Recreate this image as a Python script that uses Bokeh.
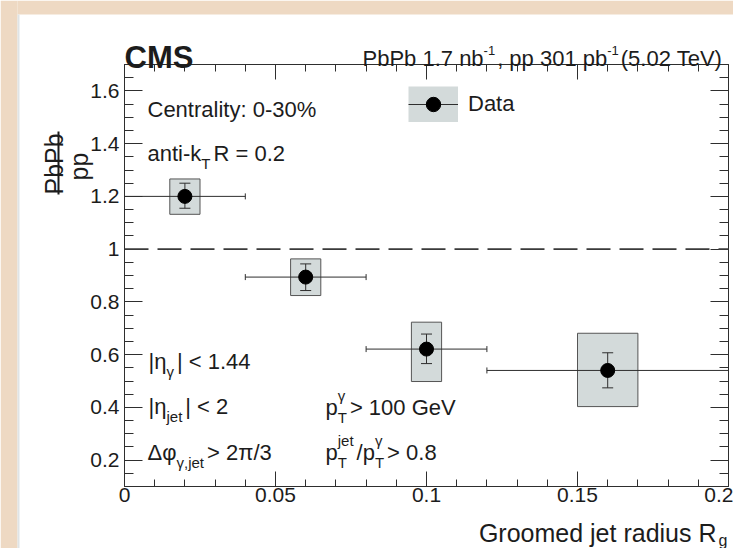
import math
from bokeh.plotting import figure
from bokeh.models import (Range1d, FixedTicker, LinearAxis, CustomJSTickFormatter, Label, Span,
                          Whisker, TeeHead, ColumnDataSource, BoxAnnotation, Arrow, Legend,
                          LegendItem, GridBox)
from bokeh.embed import file_html
from bokeh.resources import INLINE

# ---------------- data ----------------
rg_center = [0.02, 0.06, 0.10, 0.16]
rg_low = [0.00, 0.04, 0.08, 0.12]
rg_high = [0.04, 0.08, 0.12, 0.20]
ratio = [1.200, 0.894, 0.621, 0.540]
stat_up = [0.050, 0.050, 0.057, 0.067]
stat_dn = [0.045, 0.051, 0.055, 0.066]
syst_up = [0.066, 0.069, 0.102, 0.141]
syst_dn = [0.068, 0.070, 0.123, 0.137]
box_half = [0.005, 0.005, 0.005, 0.010]

x_major = [0.0, 0.05, 0.10, 0.15, 0.20]
x_minor = [0.01, 0.02, 0.03, 0.04, 0.06, 0.07, 0.08, 0.09, 0.11, 0.12, 0.13, 0.14,
           0.16, 0.17, 0.18, 0.19]
y_major = [0.2, 0.4, 0.6, 0.8, 1.0, 1.2, 1.4, 1.6]
y_minor = [0.15, 0.25, 0.3, 0.35, 0.45, 0.5, 0.55, 0.65, 0.7, 0.75, 0.85, 0.9, 0.95,
           1.05, 1.1, 1.15, 1.25, 1.3, 1.35, 1.45, 1.5, 1.55, 1.65]

FONT = "Liberation Sans"
INK = "#1c1c1c"
LINE = "#2e2e2e"
BOX_FILL = "#d3dada"
PAPER = "#eed9c3"
NAN = float("nan")
PAGE_W, PAGE_H = 733, 548

src = ColumnDataSource(dict(
    x=rg_center, y=ratio, xlo=rg_low, xhi=rg_high,
    ylo=[r - d for r, d in zip(ratio, stat_dn)],
    yhi=[r + u for r, u in zip(ratio, stat_up)],
    bl=[c - h for c, h in zip(rg_center, box_half)],
    br=[c + h for c, h in zip(rg_center, box_half)],
    bb=[r - d for r, d in zip(ratio, syst_dn)],
    bt=[r + u for r, u in zip(ratio, syst_up)],
))

# ---------------- main plot (frame fixed at 604 x 422 px, left/top at 124/64) ----------------
p = figure(frame_width=604, frame_height=422, x_range=Range1d(0, 0.2),
           y_range=Range1d(0.1, 1.7), output_backend="svg", toolbar_location=None,
           min_border_left=124, min_border_right=5, min_border_top=64, min_border_bottom=62)
if "frame_align" in p.properties():
    p.frame_align = False
p.background_fill_color = "white"
p.border_fill_color = "white"
p.outline_line_color = LINE
p.outline_line_width = 1
p.xgrid.visible = False
p.ygrid.visible = False

num_fmt = CustomJSTickFormatter(code="return Number(tick.toFixed(3)).toString();")


def style_axis(ax, ticks, minor, tin, mtin, show_labels=True):
    ax.ticker = FixedTicker(ticks=ticks, minor_ticks=minor)
    ax.major_tick_in = tin
    ax.major_tick_out = 0
    ax.minor_tick_in = mtin
    ax.minor_tick_out = 0
    ax.axis_line_color = LINE
    ax.major_tick_line_color = LINE
    ax.minor_tick_line_color = LINE
    ax.major_label_text_font = FONT
    if show_labels:
        ax.formatter = num_fmt
        ax.major_label_text_font_size = "21px"
        ax.major_label_text_color = INK
    else:
        ax.formatter = CustomJSTickFormatter(code="return '';")
        ax.major_label_text_font_size = "1px"
        ax.major_label_text_color = None
        ax.major_label_standoff = 0
        ax.axis_label_standoff = 0


style_axis(p.xaxis[0], x_major, x_minor, 15, 7)
p.xaxis[0].major_label_standoff = 1
style_axis(p.yaxis[0], y_major, y_minor, 18, 9)
p.yaxis[0].major_label_standoff = 5

top_ax = LinearAxis()
style_axis(top_ax, x_major, x_minor, 15, 7, show_labels=False)
p.add_layout(top_ax, "above")
right_ax = LinearAxis()
style_axis(right_ax, y_major, y_minor, 18, 9, show_labels=False)
p.add_layout(right_ax, "right")

# systematic boxes
boxes = p.quad(left="bl", right="br", bottom="bb", top="bt", source=src,
               fill_color=BOX_FILL, line_color="#555555", line_width=1)
boxes.level = "image"

# bin-width (horizontal) bars and statistical (vertical) bars
hbar = Whisker(base="y", lower="xlo", upper="xhi", dimension="width", source=src,
               line_color=LINE, line_width=1,
               lower_head=TeeHead(size=6, line_color=LINE, line_width=1),
               upper_head=TeeHead(size=6, line_color=LINE, line_width=1))
hbar.level = "underlay"
p.add_layout(hbar)
vbar = Whisker(base="x", lower="ylo", upper="yhi", dimension="height", source=src,
               line_color=LINE, line_width=1,
               lower_head=TeeHead(size=11, line_color=LINE, line_width=1),
               upper_head=TeeHead(size=11, line_color=LINE, line_width=1))
vbar.level = "underlay"
p.add_layout(vbar)

pts = p.scatter(x="x", y="y", source=src, size=14, marker="circle",
                fill_color="black", line_color="black")

# unity line
p.add_layout(Span(location=1.0, dimension="width", line_color="#3a3a3a",
                  line_width=1.6, line_dash="24 9"))

# legend (ROOT style: grey box, horizontal bar, marker, vertical bar)
dummy_box = p.segment(x0=[NAN], y0=[NAN], x1=[NAN], y1=[NAN], line_width=36,
                      line_color=BOX_FILL, line_cap="butt")
dummy_line = p.segment(x0=[NAN], y0=[NAN], x1=[NAN], y1=[NAN], line_width=1,
                       line_color=LINE)
FX, FY = 124, 486  # frame left / bottom in page pixels
legend = Legend(items=[LegendItem(label="Data", renderers=[dummy_box, dummy_line, pts])],
                location=(408 - FX, FY - 122), glyph_width=50, glyph_height=36,
                padding=0, margin=0, spacing=0, label_standoff=10,
                border_line_color=None, background_fill_alpha=0,
                label_text_font=FONT, label_text_font_size="22px", label_text_color=INK)
p.add_layout(legend)
p.add_layout(Arrow(x_start=433 - FX, y_start=FY - 87, x_end=433 - FX, y_end=FY - 121,
                   start_units="screen", end_units="screen", end=None, start=None,
                   line_color=LINE, line_width=1))

# ---------------- transparent overlay for captions (page-pixel coordinates) ----------------
ov = figure(width=PAGE_W, height=PAGE_H, x_range=Range1d(0, PAGE_W), y_range=Range1d(0, PAGE_H),
            output_backend="svg", toolbar_location=None, x_axis_type=None, y_axis_type=None,
            min_border_left=0, min_border_right=0, min_border_top=0, min_border_bottom=0)
if "frame_align" in ov.properties():
    ov.frame_align = False
ov.background_fill_alpha = 0
ov.border_fill_alpha = 0
ov.outline_line_color = None


def box_px(left, right, top, bottom, color):
    ov.add_layout(BoxAnnotation(left=left, right=right, top=PAGE_H - top,
                                bottom=PAGE_H - bottom, fill_color=color, fill_alpha=1,
                                line_color=None))


# paper edge around the white sheet
box_px(0, 17, 0, PAGE_H, PAPER)
box_px(17, PAGE_W, 0, 14, PAPER)
box_px(17, 19, 14, PAGE_H, "#dfe4e6")

W = {' ': .278, '!': .278, '%': .889, '(': .333, ')': .333, ',': .278, '-': .333, '.': .278,
     '/': .278, ':': .278, '<': .584, '=': .584, '>': .584, '|': .260,
     'A': .667, 'B': .667, 'C': .722, 'D': .722, 'G': .778, 'P': .667, 'R': .722, 'T': .611,
     'V': .667, 'M': .833, 'S': .667,
     'a': .556, 'b': .556, 'c': .5, 'd': .556, 'e': .556, 'i': .222, 'j': .222, 'k': .5,
     'l': .222, 'm': .833, 'n': .556, 'o': .556, 'p': .556, 'r': .333, 's': .5, 't': .278,
     'u': .556, 'y': .5, 'g': .556,
     'η': .556, 'γ': .5, 'Δ': .668, 'φ': .65, 'π': .556}


def tw(s, size):
    return sum(W.get(ch, 0.556) for ch in s) * size


def put(X, Yb, text, size, bold=False, align="left", angle=0.0):
    ov.add_layout(Label(x=X, y=PAGE_H - Yb, text=text,
                        text_font=FONT, text_font_size=f"{size}px",
                        text_font_style="bold" if bold else "normal",
                        text_align=align, text_baseline="alphabetic",
                        angle=angle, angle_units="rad", text_color=INK))


def rich(X, Yb, segs, size=22, small=15, dsub=10, dsup=12, gap=3):
    x = X
    for seg in segs:
        if isinstance(seg, str):
            put(x, Yb, seg, size)
            x += tw(seg, size)
        else:
            lo, hi = seg
            w = 0
            if lo:
                put(x, Yb + dsub, lo, small)
                w = max(w, tw(lo, small))
            if hi:
                put(x, Yb - dsup, hi, small)
                w = max(w, tw(hi, small))
            x += w + gap


# header
put(124, 57, "CMS", 31, bold=True)
rich(362, 58, ["PbPb 1.7 nb", (None, "-1"), ", pp 301 pb", (None, "-1"), " (5.02 TeV)"],
     size=22, small=13, dsup=8, gap=2)

# in-plot captions
rich(147, 109, ["Centrality: 0-30%"])
rich(147, 153, ["anti-k", ("T", None), " R = 0.2"])
rich(148, 361, ["|η", ("γ", None), "| < 1.44"])
rich(148, 406, ["|η", ("jet", None), "| < 2"])
rich(147, 452, ["Δφ", ("γ,jet", None), " > 2π/3"])
rich(325, 407, ["p", ("T", "γ"), " > 100 GeV"])
rich(325, 452, ["p", ("T", "jet"), "/p", ("T", "γ"), " > 0.8"])

# axis titles
put(716, 532, "Groomed jet radius R", 25, align="right")
put(718, 540, "g", 16)
# vertical fraction PbPb / pp, read bottom-to-top
put(53, 194, "PbPb", 25, align="left", angle=math.pi / 2)
put(78, 180, "pp", 25, align="left", angle=math.pi / 2)
box_px(57, 59, 131, 194, INK)

root = GridBox(children=[(p, 0, 0), (ov, 0, 0)], width=PAGE_W, height=PAGE_H,
               styles={"overflow": "hidden"})
open("out.html", "w").write(file_html(root, INLINE))
